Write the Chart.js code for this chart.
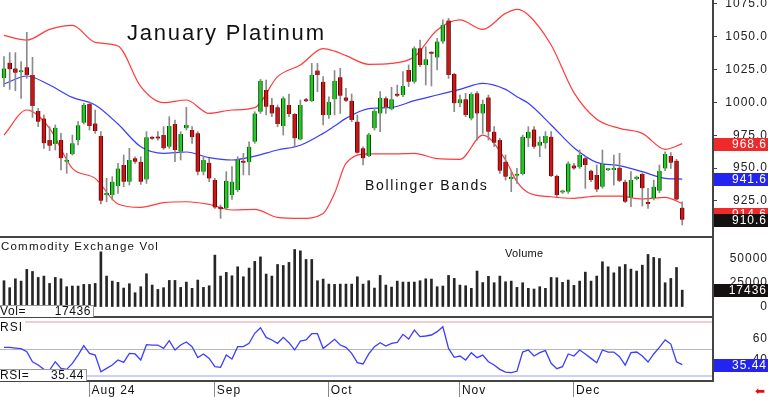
<!DOCTYPE html>
<html>
<head>
<meta charset="utf-8">
<script src="https://cdn.jsdelivr.net/npm/chart.js@4.4.0/dist/chart.umd.min.js"></script>
<style>
  body { margin: 0; background: #fff; width: 768px; height: 397px; overflow: hidden; position: relative;
         font-family: "Liberation Sans", Arial, sans-serif; }
  canvas { position: absolute; left: 0; }
  .sep { position: absolute; left: 0; width: 714px; height: 2px; background: #444; }
  .lbl { position: absolute; white-space: nowrap; color: #111; line-height: 1; }
  .box { position: absolute; left: 0; background: #fff; border-top: 1px solid #999; border-right: 1px solid #999;
         font-size: 12px; letter-spacing: 0.6px; line-height: 11px; color: #111; }
  .box span { position: absolute; top: 0; }
</style>
</head>
<body>
<canvas id="price" width="768" height="236" style="top:0"></canvas>
<div class="sep" style="top:236px"></div>
<canvas id="volume" width="768" height="78" style="top:238px"></canvas>
<div class="sep" style="top:316px"></div>
<canvas id="rsi" width="768" height="79" style="top:318px"></canvas>

<div class="lbl" style="left:127px;top:22px;font-size:22px;letter-spacing:1.8px">January Platinum</div>
<div class="lbl" style="left:365px;top:178px;font-size:14px;letter-spacing:1.7px">Bollinger Bands</div>
<div class="lbl" style="left:1px;top:241px;font-size:11.5px;letter-spacing:1.2px">Commodity Exchange Vol</div>
<div class="lbl" style="left:505px;top:248px;font-size:11px;letter-spacing:0.3px">Volume</div>
<div class="lbl" style="left:0;top:321px;font-size:12px;letter-spacing:1px;background:#fff;padding-right:2px">RSI</div>
<div class="box" id="volBox" style="top:305px;width:93px;height:11px"></div>
<div class="box" id="rsiBox" style="top:369px;width:86px;height:11px"></div>
<div class="lbl" style="left:755px;top:385px;font-size:12px;color:#e01010;font-family:'DejaVu Sans'">⬅</div>

<script>
// ===== DATA =====
// one candle per trading day, mid-July .. end of December 2024
const open  = [1018.3,1030.2,1025.9,1023.0,1026.7,1020.9,993.4,987.8,971.3,968.3,
               971.3,954.8,960.4,971.3,984.5,998.8,984.0,974.4,929.4,929.4,
               936.3,952.3,939.6,957.4,954.8,941.3,972.8,973.1,975.1,966.2,
               983.5,962.4,980.2,978.9,976.4,947.2,954.0,940.8,920.5,919.3,
               929.4,933.2,955.3,954.3,970.0,992.9,1009.4,998.0,996.2,982.0,
               998.0,991.1,971.8,1001.5,1001.0,1024.2,1015.8,990.4,1002.3,1019.1,
               1003.8,1001.3,985.3,965.0,959.1,980.2,991.6,1003.1,994.7,1005.6,
               1005.6,1024.7,1015.8,1041.2,1028.5,1037.6,1034.1,1046.3,1062.3,1021.6,
               999.3,1002.3,987.8,1006.9,991.6,1003.8,977.7,971.3,954.8,941.6,
               944.1,945.4,972.6,979.4,967.0,968.8,973.9,943.9,931.4,931.9,
               952.0,950.5,957.4,948.0,944.7,935.8,948.3,948.5,950.2,939.6,
               927.6,941.6,945.4,923.6,926.9,932.7,949.7,959.1,955.6,919.8];
const high  = [1034.8,1037.9,1037.9,1031.0,1053.4,1034.3,995.5,990.4,981.5,982.8,
               976.4,961.2,975.1,985.3,999.3,1000.5,994.2,977.7,942.1,943.4,
               953.5,959.9,965.0,958.6,958.6,977.7,973.9,977.7,981.5,989.1,
               986.6,977.7,996.2,981.5,977.7,958.6,957.4,942.1,921.8,947.2,
               951.0,958.6,961.2,970.0,992.9,1017.5,1017.0,1003.1,998.0,1004.3,
               1006.4,991.6,1001.8,1003.1,1029.7,1029.7,1019.6,1004.3,1024.2,1025.9,
               1010.7,1006.4,990.4,966.2,976.4,995.5,1008.2,1004.3,1011.5,1013.2,
               1023.4,1028.5,1042.4,1047.5,1042.4,1038.6,1048.8,1062.8,1064.0,1022.1,
               1005.6,1006.9,1007.4,1008.2,1001.8,1005.6,981.5,972.6,959.9,947.2,
               949.7,975.1,981.5,981.5,973.9,977.7,977.7,944.7,933.2,954.8,
               953.5,963.7,958.6,948.5,952.3,963.7,949.7,959.9,961.2,940.8,
               947.2,943.9,946.4,934.5,940.8,952.3,962.4,961.7,956.6,924.3];
const low   = [1012.0,1009.9,1008.9,1003.1,1018.3,988.6,981.5,965.0,963.2,963.7,
               948.5,945.9,959.9,967.5,983.5,978.9,976.4,922.6,924.3,925.6,
               930.7,935.8,937.0,953.5,937.5,938.3,971.8,971.3,964.2,965.0,
               954.8,956.1,978.9,968.8,944.7,944.7,939.6,919.3,911.6,918.5,
               926.1,931.9,944.7,944.7,968.8,991.6,990.4,989.1,981.5,975.1,
               989.1,966.2,971.3,1000.5,1000.5,1008.2,982.8,987.8,990.4,991.6,
               1000.5,985.3,961.2,952.3,958.6,978.9,977.7,991.6,994.2,1004.3,
               1004.3,1012.0,1014.5,1027.2,1013.2,1012.5,1024.7,1045.0,1018.3,992.9,
               996.7,989.1,986.6,971.3,976.4,971.3,966.2,945.9,940.8,932.0,
               938.3,944.7,966.2,965.0,958.6,965.0,943.4,928.1,930.7,930.7,
               949.0,949.7,934.5,939.6,931.9,934.5,948.0,937.0,939.6,923.6,
               920.5,940.8,921.0,919.3,925.6,931.2,947.9,949.7,925.6,906.6];
const close = [1025.9,1025.2,1022.6,1024.0,1020.9,997.2,985.3,968.8,967.0,980.7,
               957.4,956.1,968.8,982.5,998.0,982.0,978.2,925.1,930.7,939.6,
               949.7,939.6,956.1,954.8,939.6,973.4,972.2,972.5,965.0,982.0,
               963.7,975.9,982.8,973.4,947.2,956.1,942.1,920.0,918.5,940.3,
               939.6,956.1,954.0,966.2,991.6,1016.5,996.7,991.6,983.5,1003.1,
               991.1,972.6,998.0,1000.8,1020.9,1020.9,990.4,1000.5,1016.5,1005.1,
               1001.3,986.6,961.7,957.4,975.6,993.4,1003.6,996.2,1002.3,1005.0,
               1012.5,1015.8,1041.2,1028.5,1032.8,1037.0,1046.3,1059.0,1020.9,999.3,
               1002.3,990.4,1006.4,991.6,998.8,977.7,969.3,948.0,943.4,943.4,
               944.9,973.9,977.7,966.2,970.0,974.4,943.9,929.4,932.0,953.5,
               949.7,959.9,952.3,940.8,933.7,953.0,948.9,950.2,940.3,924.3,
               940.8,943.4,934.5,922.6,935.8,947.9,960.7,954.0,926.1,910.6];

// Bollinger bands, read at every few candles
const bandIdx    = [0,4,8,12,16,20,24,28,32,36,40,44,48,52,56,58,60,64,68,72,76,80,84,88,90,92,96,100,104,108,112,116,119];
const upperBand  = [1051.0,1047.5,1055.6,1058.7,1045.7,1043.0,1012.0,999.8,1001.8,991.6,994.2,996.0,1019.6,1028.5,1040.9,1039.0,1035.6,1029.0,1029.7,1034.8,1055.1,1062.8,1055.6,1067.8,1070.9,1066.6,1043.7,1007.4,987.1,980.2,976.4,964.2,968.6];
const middleBand = [1014.0,1020.1,1013.2,1003.8,998.0,983.5,966.2,961.2,962.2,957.9,956.1,959.1,963.7,967.3,976.4,982.0,987.8,995.2,996.2,1001.3,1005.6,1009.9,1014.5,1009.9,1004.3,999.3,982.8,965.5,954.3,951.8,947.2,942.1,941.6];
const lowerBand  = [975.1,994.2,980.2,949.7,942.1,922.6,920.0,923.6,924.3,922.3,918.0,918.5,912.4,911.6,915.4,930.7,953.5,960.7,960.7,961.2,957.1,956.6,975.1,956.1,939.6,931.2,928.1,926.9,928.6,928.6,926.4,927.6,923.0];
const lastBandLabels = [968.6, 941.6, 914.6];

const volume = [27200,20000,29200,26800,38900,36800,30600,32000,24400,30600,
                29200,21000,21700,21700,23400,23400,24400,57100,32000,26800,
                25500,19600,24100,14800,21000,34400,22700,18200,20000,27500,
                27500,20300,25800,19300,27900,20300,22000,53700,32000,35800,
                32300,41600,31300,40300,47200,51900,34100,32000,44000,43000,
                46100,59500,58100,49200,49200,27200,28900,23700,23400,23700,
                23700,23700,31300,23700,27200,19600,32700,22700,20600,26800,
                25800,25800,25800,27200,29200,28900,21000,21700,32700,29600,
                22700,22000,19300,37200,25300,31700,25100,32000,26100,26800,
                20300,25100,19300,18600,21000,19300,30600,30300,25500,27900,
                22400,26800,36100,26800,32000,46800,41600,35400,41600,44000,
                39200,37200,43300,54400,51300,50200,25100,29600,40900,17436];

const rsi = [51.5,51.5,50.9,50.3,47.5,38.2,35.1,31.1,30.5,38.2,
             32.0,31.1,36.7,44.4,53.1,46.0,44.4,28.9,32.0,35.1,
             39.8,37.6,46.0,45.4,39.8,54.0,53.7,53.7,50.6,57.7,
             49.1,53.7,56.5,52.2,42.0,45.4,41.3,33.6,33.0,44.4,
             40.7,52.2,52.2,55.3,64.6,69.8,60.8,58.4,55.3,60.8,
             55.9,49.1,57.4,58.4,64.2,64.2,50.6,54.6,59.0,53.7,
             51.5,46.0,37.3,36.1,45.4,52.2,55.9,52.8,55.3,56.2,
             63.6,59.3,67.6,61.5,62.1,63.0,66.1,70.7,50.6,42.3,
             43.5,39.8,46.6,42.0,44.4,38.2,35.1,31.1,28.6,28.0,
             29.3,47.2,49.1,43.5,46.6,48.5,36.7,31.7,33.6,45.4,
             43.5,49.1,45.4,41.3,37.3,49.1,47.2,47.2,42.9,35.1,
             46.6,47.2,43.5,37.9,45.4,51.5,58.4,54.6,38.2,35.44];

const monthIdx    = [15, 37, 57, 80, 100];
const monthLabels = ['Aug 24', 'Sep', 'Oct', 'Nov', 'Dec'];
const priceTicks  = [925, 950, 975, 1000, 1025, 1050, 1075];
const volTicks    = [0, 25000, 50000];
const rsiTicks    = [25, 40, 50, 60, 75];

// ===== HELPERS =====
const FONT = '"Liberation Sans", Arial, sans-serif';
const X_MIN = -0.7, X_MAX = 124.4;
const last = arr => arr[arr.length - 1];

const spacing = {
  id: 'spacing',
  beforeUpdate(chart) { chart.ctx.letterSpacing = '1px'; },
  beforeDraw(chart) { chart.ctx.letterSpacing = '1px'; }
};

// coloured value boxes on the right edge
const valueBoxes = {
  id: 'valueBoxes',
  afterDraw(chart, args, opts) {
    const { ctx, chartArea } = chart;
    const y = chart.scales.y;
    ctx.save();
    ctx.font = '12px ' + FONT;
    ctx.letterSpacing = '1px';
    ctx.textAlign = 'right';
    ctx.textBaseline = 'middle';
    (opts.items || []).forEach(it => {
      const py = Math.round(y.getPixelForValue(it.value));
      ctx.fillStyle = it.bg;
      ctx.fillRect(chartArea.right + 1, py - 6, chart.width - chartArea.right - 1, 13);
      ctx.fillStyle = '#fff';
      ctx.fillText(it.text, chart.width - 1, py + 1);
    });
    ctx.restore();
  }
};

const rightAxis = (min, max, ticks, fmt, padding, extra) => Object.assign({
  position: 'right', min, max,
  afterBuildTicks: s => { s.ticks = ticks.map(v => ({ value: v })); },
  afterFit: s => { s.width = 55; s.paddingTop = 0; s.paddingBottom = 0; },
  border: { display: true, color: '#444', width: 2 },
  grid: { drawOnChartArea: false, drawTicks: false },
  ticks: { callback: fmt, crossAlign: 'far', padding, autoSkip: false, color: '#222', font: { family: FONT, size: 12 } }
}, extra || {});

const hiddenX = { type: 'linear', min: X_MIN, max: X_MAX, offset: false, display: false };

const baseOptions = {
  responsive: false,
  animation: false,
  events: [],
  layout: { padding: 0 },
  plugins: { legend: { display: false }, tooltip: { enabled: false } }
};

// ===== PRICE PANEL =====
const up = open.map((o, i) => close[i] >= o);
const bandLine = (vals, color) => ({
  type: 'line',
  data: bandIdx.map((x, i) => ({ x, y: vals[i] })),
  borderColor: color, borderWidth: 1.2, pointRadius: 0,
  cubicInterpolationMode: 'monotone', order: 3
});

new Chart(document.getElementById('price'), {
  type: 'bar',
  data: {
    datasets: [
      bandLine(upperBand, '#ff3b3b'),
      bandLine(lowerBand, '#ff3b3b'),
      bandLine(middleBand, '#3b3bff'),
      {
        data: low.map((l, i) => ({ x: i, y: [l, high[i]] })),
        backgroundColor: '#8a8a8a', barThickness: 1, grouped: false, order: 2
      },
      {
        data: open.map((o, i) => ({ x: i, y: [o, close[i]] })),
        backgroundColor: up.map(u => u ? '#22cc22' : '#d41414'),
        borderColor: up.map(u => u ? '#0c3d0c' : '#4a0a0a'),
        borderWidth: { left: 1, right: 1, top: 0, bottom: 0 },
        borderSkipped: false,
        barThickness: 4, minBarLength: 2, grouped: false, order: 1
      }
    ]
  },
  options: {
    ...baseOptions,
    scales: {
      x: hiddenX,
      y: rightAxis(898.2, 1078, priceTicks, v => v.toFixed(1), 5,
        { grid: { drawOnChartArea: false, drawTicks: true, tickLength: 4, color: '#444' } })
    },
    plugins: {
      ...baseOptions.plugins,
      valueBoxes: { items: [
        { value: lastBandLabels[0], text: lastBandLabels[0].toFixed(1), bg: '#f02a2a' },
        { value: lastBandLabels[1], text: lastBandLabels[1].toFixed(1), bg: '#2424f0' },
        { value: lastBandLabels[2], text: lastBandLabels[2].toFixed(1), bg: '#f02a2a' },
        { value: last(close), text: last(close).toFixed(1), bg: '#141010' }
      ] }
    }
  },
  plugins: [spacing, valueBoxes]
});

// ===== VOLUME PANEL =====
new Chart(document.getElementById('volume'), {
  type: 'bar',
  data: {
    datasets: [{
      data: volume.map((v, i) => ({ x: i, y: v })),
      backgroundColor: '#262626', barThickness: 2, grouped: false
    }]
  },
  options: {
    ...baseOptions,
    scales: {
      x: hiddenX,
      y: rightAxis(-9300, 71400, volTicks, v => String(v), 14)
    },
    plugins: {
      ...baseOptions.plugins,
      valueBoxes: { items: [{ value: last(volume), text: String(last(volume)), bg: '#141010' }] }
    }
  },
  plugins: [spacing, valueBoxes]
});

// ===== RSI PANEL =====
const refLine = { 75: '#f7cccc', 50: '#b8b8b8', 25: '#ccd0f7' };
new Chart(document.getElementById('rsi'), {
  type: 'line',
  data: {
    datasets: [{
      data: rsi.map((v, i) => ({ x: i, y: v })),
      borderColor: '#3d3dff', borderWidth: 1.3, pointRadius: 0, tension: 0
    }]
  },
  options: {
    ...baseOptions,
    scales: {
      x: {
        type: 'linear', min: X_MIN, max: X_MAX, offset: false,
        afterBuildTicks: s => { s.ticks = monthIdx.map(v => ({ value: v })); },
        afterFit: s => { s.height = 16; s.paddingLeft = 0; s.paddingRight = 0; },
        border: { display: true, color: '#444', width: 2 },
        grid: { drawOnChartArea: false, drawTicks: true, tickLength: 16, color: '#8a8a8a' },
        ticks: {
          callback: (v, i) => monthLabels[i], align: 'start', maxRotation: 0, autoSkip: false,
          padding: -14, labelOffset: 2, color: '#111', font: { family: FONT, size: 12 }
        }
      },
      y: rightAxis(20.3, 78.8, rsiTicks, v => (v === 40 || v === 60) ? String(v) : '', 36, {
        grid: {
          drawOnChartArea: true, drawTicks: false,
          color: c => refLine[c.tick.value] || 'rgba(0,0,0,0)',
          lineWidth: c => c.tick.value === 50 ? 1 : 2
        }
      })
    },
    plugins: {
      ...baseOptions.plugins,
      valueBoxes: { items: [{ value: last(rsi), text: last(rsi).toFixed(2), bg: '#2424f0' }] }
    }
  },
  plugins: [spacing, valueBoxes]
});

// read-outs in the lower-left boxes
document.getElementById('volBox').innerHTML =
  '<span style="left:0">Vol=</span><span style="right:2px">' + last(volume) + '</span>';
document.getElementById('rsiBox').innerHTML =
  '<span style="left:0">RSI=</span><span style="right:2px">' + last(rsi).toFixed(2) + '</span>';
</script>
</body>
</html>
